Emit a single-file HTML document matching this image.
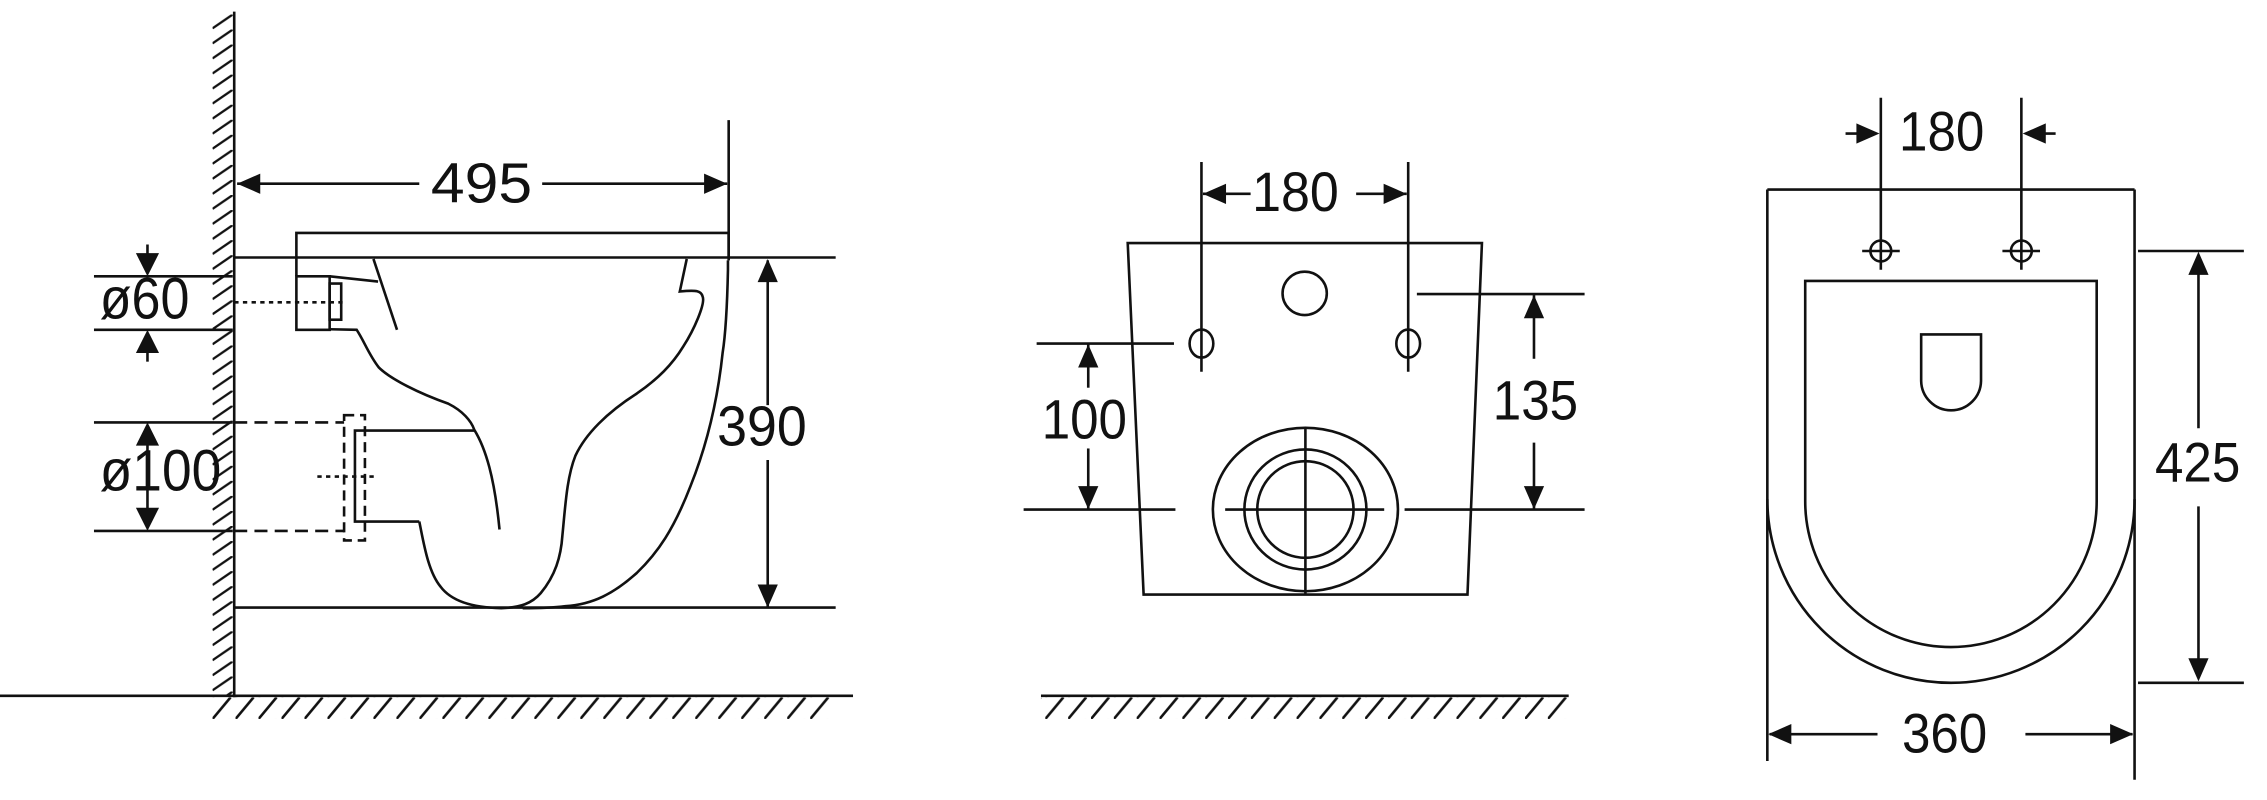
<!DOCTYPE html>
<html><head><meta charset="utf-8"><style>
html,body{margin:0;padding:0;background:#fff;}
svg{display:block;}
text{font-family:"Liberation Sans",Arial,sans-serif;font-size:35px;fill:#111;text-anchor:middle;}
</style></head><body>
<svg width="2267" height="800" viewBox="0 0 1568 553" preserveAspectRatio="none" xmlns="http://www.w3.org/2000/svg">
<defs>
<pattern id="hf" patternUnits="userSpaceOnUse" x="147" y="482" width="15.9" height="15">
<line x1="0" y1="15" x2="12.5" y2="0" stroke="#111" stroke-width="1.8"/>
</pattern>
<pattern id="hm" patternUnits="userSpaceOnUse" x="723" y="482" width="15.8" height="15">
<line x1="0" y1="15" x2="12.5" y2="0" stroke="#111" stroke-width="1.8"/>
</pattern>
<pattern id="hw" patternUnits="userSpaceOnUse" x="147" y="10" width="15" height="10.4">
<line x1="0" y1="9.6" x2="14" y2="0" stroke="#111" stroke-width="1.6"/>
</pattern>
</defs>
<rect width="1568" height="553" fill="#fff"/>
<g stroke="#111" stroke-width="1.8" fill="none">
<rect x="147" y="10" width="14" height="471" fill="url(#hw)" stroke="none"/>
<rect x="147" y="482" width="427" height="15" fill="url(#hf)" stroke="none"/>
<line x1="162" y1="8" x2="162" y2="482"/>
<line x1="0" y1="481" x2="590" y2="481"/>
<line x1="504" y1="83" x2="504" y2="180"/>
<line x1="164" y1="127" x2="290" y2="127"/>
<line x1="375" y1="127" x2="503" y2="127"/>
<polyline points="205,191 205,161 504,161 504,178"/>
<line x1="162" y1="178" x2="578" y2="178"/>
<line x1="162" y1="420" x2="578" y2="420"/>
<line x1="531" y1="180" x2="531" y2="280"/>
<line x1="531" y1="318" x2="531" y2="420"/>
<line x1="65" y1="191" x2="161" y2="191"/>
<line x1="65" y1="228" x2="161" y2="228"/>
<line x1="102" y1="169" x2="102" y2="180"/>
<line x1="102" y1="240" x2="102" y2="250"/>
<rect x="205" y="191" width="23" height="37"/>
<rect x="228" y="196" width="8" height="25"/>
<line x1="162" y1="209" x2="238" y2="209" stroke-dasharray="3,3"/>
<line x1="228" y1="191" x2="261.5" y2="194.6"/>
<line x1="258.3" y1="179" x2="274.6" y2="228"/>
<line x1="65" y1="292" x2="161" y2="292"/>
<line x1="65" y1="367" x2="161" y2="367"/>
<line x1="162" y1="292" x2="238" y2="292" stroke-dasharray="9,5"/>
<line x1="162" y1="367" x2="238" y2="367" stroke-dasharray="9,5"/>
<rect x="238" y="287" width="14.4" height="86.6" stroke-dasharray="7,4"/>
<line x1="102" y1="306" x2="102" y2="353"/>
<line x1="219.5" y1="329.4" x2="260.3" y2="329.4" stroke-dasharray="3,3"/>
<path d="M228,227.6 L246.7,228 C252,236 255,245 262,254 C270,262 290,272 310,279 C320,284 326,291 328,297 C336,310 342,330 345.5,366"/>
<polyline points="328,297.6 245.5,297.6 245.5,360.5 290,360.5"/>
<path d="M290,360.5 C293,375 296,395 304.7,405.5 C311,414 324,420 346.7,420.4 C360,420 368,417 374,410 C384,398 388,385 389,370 C391,350 392,330 398,315 C405,300 420,285 440.5,272 C455,262 465,252 472.6,239.5 C480,228 488,210 486,205 C485,201 482,200.4 470.2,201.5 L475,179"/>
<path d="M503.5,180 L503.5,186.6 C503,210 502,230 499.8,244 C496,280 488,310 477.6,336 C466,366 455,382 440.5,396 C425,410 410,418 391,419 C380,420.4 370,420.4 361.5,420.4"/>

<rect x="720" y="482" width="364" height="15" fill="url(#hm)" stroke="none"/>
<line x1="720" y1="481" x2="1085" y2="481"/>
<polygon points="780,168 1025,168 1015,411 791,411"/>
<line x1="831" y1="112" x2="831" y2="257"/>
<line x1="974" y1="112" x2="974" y2="257"/>
<line x1="832" y1="134" x2="865" y2="134"/>
<line x1="938" y1="134" x2="973" y2="134"/>
<ellipse cx="902.4" cy="202.8" rx="15.3" ry="15"/>
<ellipse cx="831" cy="237.5" rx="8.2" ry="9.7"/>
<ellipse cx="974" cy="237.5" rx="8.2" ry="9.7"/>
<line x1="717" y1="237.5" x2="812" y2="237.5"/>
<line x1="708" y1="352.2" x2="813" y2="352.2"/>
<line x1="752.7" y1="238" x2="752.7" y2="268"/>
<line x1="752.7" y1="310" x2="752.7" y2="352"/>
<line x1="980" y1="203.3" x2="1096" y2="203.3"/>
<line x1="971.5" y1="352.2" x2="1096" y2="352.2"/>
<line x1="1061" y1="204" x2="1061" y2="248"/>
<line x1="1061" y1="306" x2="1061" y2="352"/>
<ellipse cx="902.9" cy="352.2" rx="64" ry="56.5"/>
<ellipse cx="902.9" cy="352.2" rx="42.2" ry="41.5"/>
<ellipse cx="902.9" cy="352.2" rx="33.3" ry="33.4"/>
<line x1="847.4" y1="352.2" x2="957.4" y2="352.2"/>
<line x1="902.9" y1="296.2" x2="902.9" y2="410.3"/>

<line x1="1222.4" y1="131" x2="1222.4" y2="526"/>
<line x1="1476.4" y1="131" x2="1476.4" y2="539"/>
<line x1="1222.4" y1="131" x2="1476.4" y2="131"/>
<path d="M1222.4,345 A127,127 0 0 0 1476.4,345"/>
<path d="M1248.6,194.2 L1450.2,194.2 L1450.2,346.5 A100.8,100.8 0 0 1 1248.6,346.5 Z"/>
<path d="M1328.8,231.2 L1370.2,231.2 L1370.2,263 A20.7,20.7 0 0 1 1328.8,263 Z"/>
<line x1="1300.9" y1="67.6" x2="1300.9" y2="186.5"/>
<line x1="1398.1" y1="67.6" x2="1398.1" y2="186.5"/>
<circle cx="1300.9" cy="173.5" r="7.2"/>
<circle cx="1398.1" cy="173.5" r="7.2"/>
<line x1="1288" y1="173.5" x2="1314" y2="173.5"/>
<line x1="1385" y1="173.5" x2="1411" y2="173.5"/>
<line x1="1276.5" y1="92.3" x2="1290" y2="92.3"/>
<line x1="1409" y1="92.3" x2="1421.8" y2="92.3"/>
<line x1="1478.8" y1="173.5" x2="1552" y2="173.5"/>
<line x1="1478.8" y1="472" x2="1552" y2="472"/>
<line x1="1520.6" y1="185" x2="1520.6" y2="296"/>
<line x1="1520.6" y1="350" x2="1520.6" y2="460"/>
<line x1="1224" y1="507.5" x2="1298.6" y2="507.5"/>
<line x1="1400.9" y1="507.5" x2="1475" y2="507.5"/>
</g>
<g fill="#111" stroke="none">
<polygon points="164,127 180,120 180,134"/>
<polygon points="503,127 487,120 487,134"/>
<polygon points="531,179 524,195 538,195"/>
<polygon points="531,420 524,404 538,404"/>
<polygon points="102,191 94,175 110,175"/>
<polygon points="102,228 94,244 110,244"/>
<polygon points="102,292 94,308 110,308"/>
<polygon points="102,367 94,351 110,351"/>
<polygon points="832,134 848,127 848,141"/>
<polygon points="973,134 957,127 957,141"/>
<polygon points="752.7,238 745.7,254 759.7,254"/>
<polygon points="752.7,352 745.7,336 759.7,336"/>
<polygon points="1061,204 1054,220 1068,220"/>
<polygon points="1061,352 1054,336 1068,336"/>
<polygon points="1300,92.3 1284,85.3 1284,99.3"/>
<polygon points="1399,92.3 1415,85.3 1415,99.3"/>
<polygon points="1520.6,174 1513.6,190 1527.6,190"/>
<polygon points="1520.6,471 1513.6,455 1527.6,455"/>
<polygon points="1223,507.5 1239,500.5 1239,514.5"/>
<polygon points="1475.5,507.5 1459.5,500.5 1459.5,514.5"/>
</g>
<g>
<text transform="translate(333,140) scale(1,1.12)" textLength="70" lengthAdjust="spacingAndGlyphs">495</text>
<text transform="translate(527,308) scale(1,1.12)" textLength="62" lengthAdjust="spacingAndGlyphs">390</text>
<text transform="translate(100,220) scale(1,1.15)" textLength="62" lengthAdjust="spacingAndGlyphs">ø60</text>
<text transform="translate(111,339) scale(1,1.15)" textLength="84" lengthAdjust="spacingAndGlyphs">ø100</text>
<text transform="translate(896,146) scale(1,1.1)" textLength="60" lengthAdjust="spacingAndGlyphs">180</text>
<text transform="translate(750,303) scale(1,1.1)" textLength="59" lengthAdjust="spacingAndGlyphs">100</text>
<text transform="translate(1062,290) scale(1,1.1)" textLength="59" lengthAdjust="spacingAndGlyphs">135</text>
<text transform="translate(1343,104) scale(1,1.1)" textLength="59" lengthAdjust="spacingAndGlyphs">180</text>
<text transform="translate(1520,333) scale(1,1.1)" textLength="59" lengthAdjust="spacingAndGlyphs">425</text>
<text transform="translate(1345,520) scale(1,1.1)" textLength="59" lengthAdjust="spacingAndGlyphs">360</text>
</g>
</svg>
</body></html>
